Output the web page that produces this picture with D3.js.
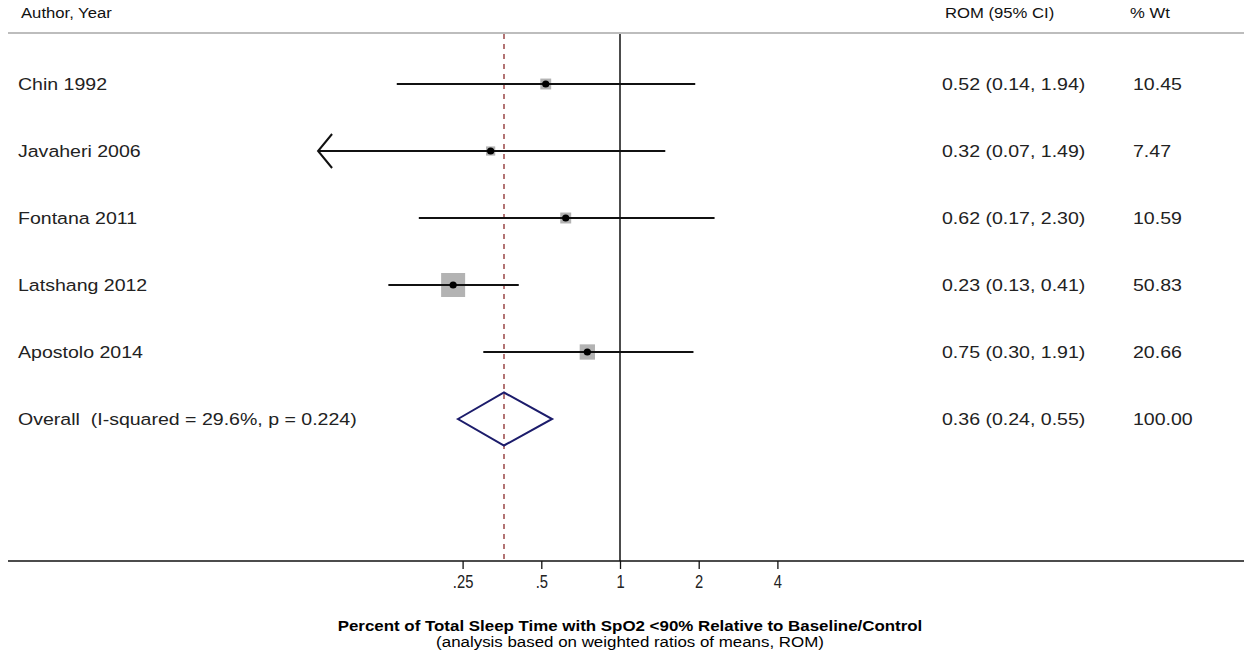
<!DOCTYPE html>
<html>
<head>
<meta charset="utf-8">
<script src="https://cdn.jsdelivr.net/npm/d3@7"></script>
<style>
  html, body { margin: 0; padding: 0; background: #ffffff; }
  svg { display: block; font-family: "Liberation Sans", Arial, Helvetica, sans-serif; }
  text { white-space: pre; }
</style>
</head>
<body>
<svg id="chart" width="1244" height="658"></svg>
<script>
// Study-level results (ratio of means with 95% CI and percent weight)
const studies   = ["Chin 1992", "Javaheri 2006", "Fontana 2011", "Latshang 2012", "Apostolo 2014"];
const rom       = [0.52, 0.32, 0.62, 0.23, 0.75];
const lowerCI   = [0.14, 0.07, 0.17, 0.13, 0.30];
const upperCI   = [1.94, 1.49, 2.30, 0.41, 1.91];
const weights   = [10.45, 7.47, 10.59, 50.83, 20.66];

// Pooled estimate
const overallLabel = "Overall  (I-squared = 29.6%, p = 0.224)";
const overallROM   = 0.36;
const overallLower = 0.24;
const overallUpper = 0.55;
const overallWeight = 100.00;

// Axis ticks
const tickValues = [0.25, 0.5, 1, 2, 4];
const tickLabels = [".25", ".5", "1", "2", "4"];

const headers = ["Author, Year", "ROM (95% CI)", "% Wt"];
const titleText = "Percent of Total Sleep Time with SpO2 <90% Relative to Baseline/Control";
const subtitleText = "(analysis based on weighted ratios of means, ROM)";

const svg = d3.select("#chart");
const W = 1244, H = 658;
const TEXT_STRETCH = 1.15;

const fmt2 = d3.format(".2f");

// Horizontal log scale (base 2)
const x = d3.scaleLog().base(2).domain([0.25, 4]).range([462.6, 777.4]);

// Row positions
const rowKeys = studies.concat(["__overall__"]);
const y = d3.scalePoint().domain(rowKeys).range([84, 419]);

const headerY = 33;     // rule under column headings
const axisY = 561;

// Helper: place horizontally stretched text
function stretchedText(sel, tx, ty, str, opts) {
  const o = Object.assign({ size: 17, weight: "normal", anchor: "start", fill: "#222", sx: TEXT_STRETCH }, opts || {});
  return sel.append("text")
    .attr("transform", `translate(${tx},${ty}) scale(${o.sx},1)`)
    .attr("font-size", o.size)
    .attr("font-weight", o.weight)
    .attr("text-anchor", o.anchor)
    .attr("fill", o.fill)
    .text(str);
}

// Column headings
const colX = { label: 21, rom: 945, wt: 1130 };
stretchedText(svg, colX.label, 18, headers[0], { size: 14.5, fill: "#111" });
stretchedText(svg, colX.rom, 18, headers[1], { size: 14.5, fill: "#111" });
stretchedText(svg, colX.wt, 18, headers[2], { size: 14.5, fill: "#111" });

// Rule below headings
svg.append("line")
  .attr("x1", 8).attr("x2", W)
  .attr("y1", headerY).attr("y2", headerY)
  .attr("stroke", "#bdbdbd").attr("stroke-width", 2);

// Null line at ROM = 1
svg.append("line")
  .attr("x1", x(1)).attr("x2", x(1))
  .attr("y1", headerY + 1).attr("y2", axisY)
  .attr("stroke", "#111").attr("stroke-width", 1.5);

// Pooled estimate reference line
svg.append("line")
  .attr("x1", x(overallROM)).attr("x2", x(overallROM))
  .attr("y1", headerY + 1).attr("y2", axisY)
  .attr("stroke", "#8a2a2a").attr("stroke-width", 1.3)
  .attr("stroke-dasharray", "5,5");

// Weight squares (area proportional to weight)
const maxW = d3.max(weights);
const side = d3.scaleSqrt().domain([0, maxW]).range([0, 24]);

const rows = svg.append("g").selectAll("g")
  .data(studies.map((s, i) => ({ s, est: rom[i], lo: lowerCI[i], hi: upperCI[i], w: weights[i] })))
  .join("g");

rows.append("rect")
  .attr("x", d => x(d.est) - side(d.w) / 2)
  .attr("y", d => y(d.s) - side(d.w) / 2)
  .attr("width", d => side(d.w))
  .attr("height", d => side(d.w))
  .attr("fill", "#b3b3b3");

// Confidence interval lines
rows.append("line")
  .attr("x1", d => x(d.lo)).attr("x2", d => x(d.hi))
  .attr("y1", d => y(d.s)).attr("y2", d => y(d.s))
  .attr("stroke", "#111").attr("stroke-width", 2.2);

// Arrowhead where the interval runs off to the left
rows.filter(d => d.lo < 0.1).append("path")
  .attr("d", d => {
    const tx = x(d.lo), ty = y(d.s);
    return `M${tx + 14},${ty - 17} L${tx},${ty} L${tx + 14},${ty + 17}`;
  })
  .attr("fill", "none").attr("stroke", "#111").attr("stroke-width", 2);

// Point estimates
rows.append("circle")
  .attr("cx", d => x(d.est)).attr("cy", d => y(d.s))
  .attr("r", 3.6).attr("fill", "#000");

// Study labels and values
rows.each(function (d) {
  const g = d3.select(this);
  const ty = y(d.s) + 6;
  stretchedText(g, 18, ty, d.s);
  stretchedText(g, 942, ty, `${fmt2(d.est)} (${fmt2(d.lo)}, ${fmt2(d.hi)})`);
  stretchedText(g, 1133, ty, fmt2(d.w));
});

// Pooled diamond
const oy = y("__overall__");
const halfH = 26.5;
svg.append("path")
  .attr("d", `M${x(overallLower)},${oy} L${x(overallROM)},${oy - halfH} L${x(overallUpper)},${oy} L${x(overallROM)},${oy + halfH} Z`)
  .attr("fill", "none").attr("stroke", "#1c1c6b").attr("stroke-width", 2);

stretchedText(svg, 18, oy + 6, overallLabel);
stretchedText(svg, 942, oy + 6, `${fmt2(overallROM)} (${fmt2(overallLower)}, ${fmt2(overallUpper)})`);
stretchedText(svg, 1133, oy + 6, fmt2(overallWeight));

// Horizontal axis
svg.append("line")
  .attr("x1", 8).attr("x2", W)
  .attr("y1", axisY).attr("y2", axisY)
  .attr("stroke", "#111").attr("stroke-width", 1.5);

const axis = d3.axisBottom(x)
  .tickValues(tickValues)
  .tickFormat((d, i) => tickLabels[i])
  .tickSize(8)
  .tickPadding(6);

const axisG = svg.append("g")
  .attr("transform", `translate(0,${axisY})`)
  .call(axis);
axisG.attr("font-size", 18).attr("font-family", "'Liberation Sans', Arial, sans-serif");
axisG.select(".domain").remove();
axisG.selectAll(".tick line").attr("stroke", "#111").attr("stroke-width", 1.3);
// Tall, narrow tick labels
axisG.selectAll(".tick text")
  .attr("font-size", 18)
  .attr("transform", "scale(0.82,1)")
  .attr("fill", "#222");

// Axis titles
stretchedText(svg, 630, 631, titleText, { size: 14.7, weight: "bold", anchor: "middle", fill: "#000" });
stretchedText(svg, 630, 647, subtitleText, { size: 14.7, anchor: "middle", fill: "#000" });
</script>
</body>
</html>
